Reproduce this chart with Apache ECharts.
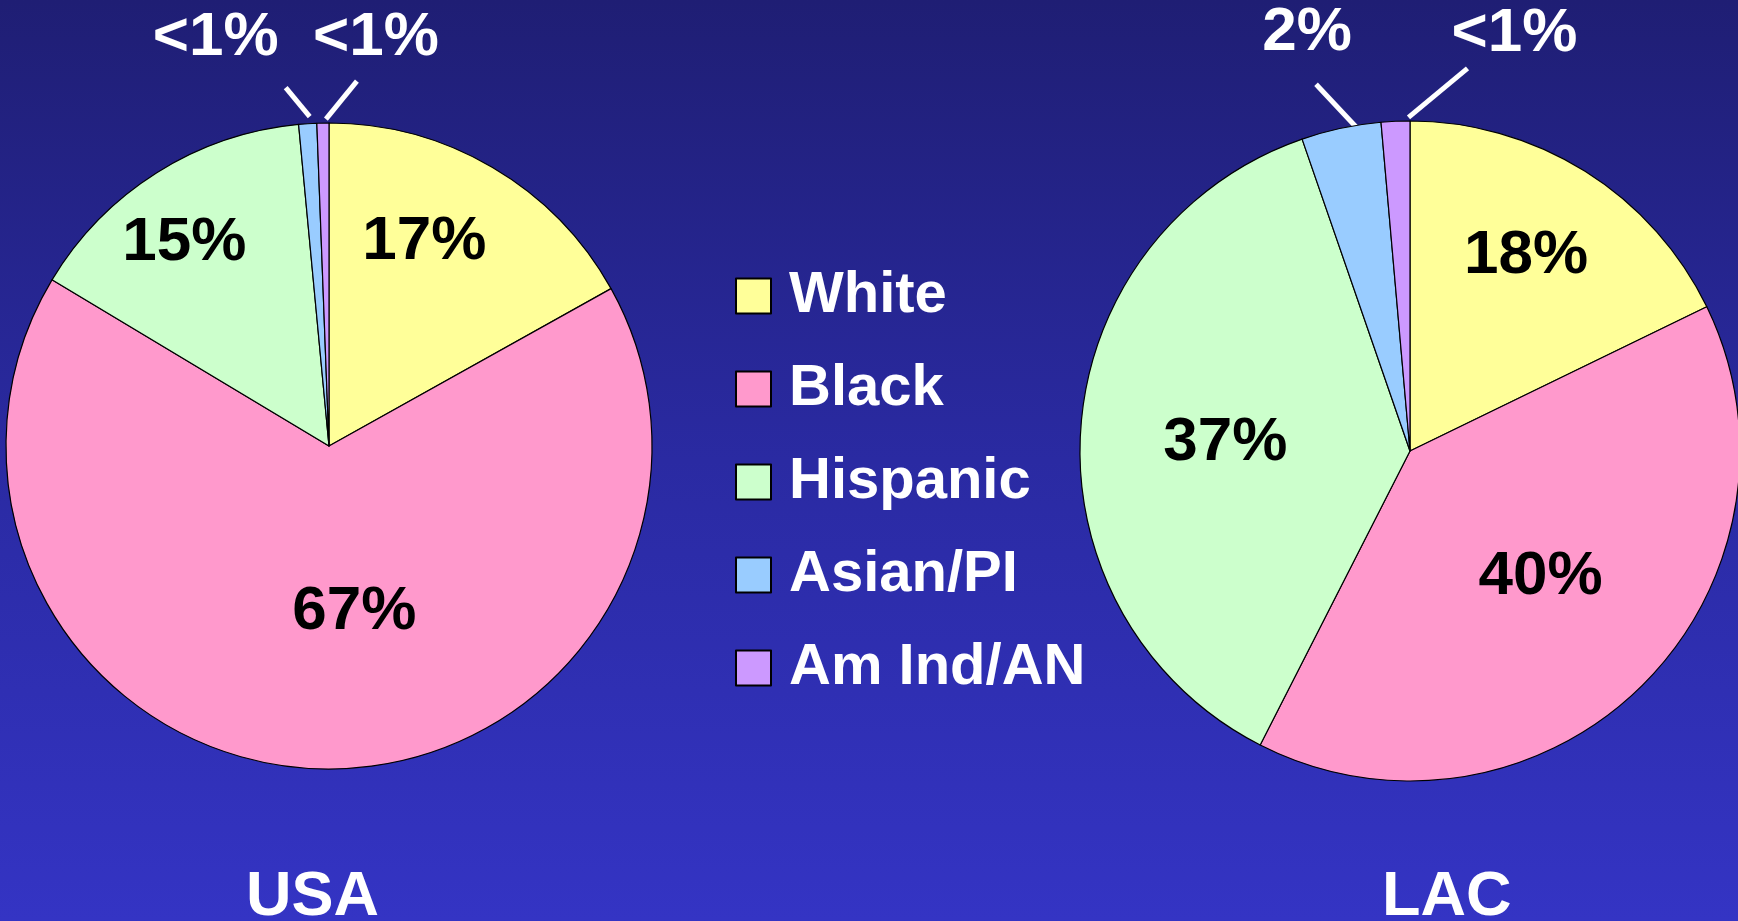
<!DOCTYPE html>
<html>
<head>
<meta charset="utf-8">
<title>USA / LAC</title>
<script src="https://cdn.jsdelivr.net/npm/echarts@6/dist/echarts.min.js"></script>
<style>
html, body { margin: 0; padding: 0; }
#main { width: 1738px; height: 921px; }
</style>
</head>
<body>
<div id="main"></div>
<script>
// data
var categories = ['White', 'Black', 'Hispanic', 'Asian/PI', 'Am Ind/AN'];
var usaValues = [16.9, 66.7, 14.9, 0.9, 0.6];
var lacValues = [17.8, 39.7, 37.2, 3.9, 1.4];
var usaLabels = ['17%', '67%', '15%', '<1%', '<1%'];
var lacLabels = ['18%', '40%', '37%', '2%', '<1%'];

var sliceColors = ['#FFFF99', '#FF99CC', '#CCFFCC', '#99CCFF', '#CC99FF'];
var fontFamily = '"Liberation Sans", Arial, Helvetica, sans-serif';

// label nudges: big slices shift from their default spot,
// small slices get a straight white leader line
var labelAdjust = {
    USA: [
        {dx: 12, dy: -62},
        {dx: 28, dy: 1},
        {dx: -57, dy: -64},
        {line: [[2, -7], [-22, -36]], text: [-92, -86]},
        {line: [[3, -4], [34, -42]], text: [53, -85]}
    ],
    LAC: [
        {dx: 27, dy: -53},
        {dx: 13, dy: 6},
        {dx: -17, dy: 4},
        {line: [[19, 3], [-25, -44]], text: [-34, -95]},
        {line: [[13, -4], [72, -53]], text: [119, -87]}
    ]
};

function makeLayout(name) {
    return function (params) {
        var adj = labelAdjust[name][params.dataIndex];
        if (adj.line) {
            var p = params.labelLinePoints[0];
            var a = [p[0] + adj.line[0][0], p[1] + adj.line[0][1]];
            var b = [p[0] + adj.line[1][0], p[1] + adj.line[1][1]];
            return {
                x: p[0] + adj.text[0],
                y: p[1] + adj.text[1],
                align: 'center',
                verticalAlign: 'middle',
                labelLinePoints: [a, b, b]
            };
        }
        var r = params.labelRect;
        return {
            x: r.x + r.width / 2 + adj.dx,
            y: r.y + r.height / 2 + adj.dy,
            align: 'center',
            verticalAlign: 'middle'
        };
    };
}

function buildData(values) {
    return categories.map(function (name, i) {
        var item = {name: name, value: values[i], itemStyle: {color: sliceColors[i]}};
        if (i >= 3) {
            item.label = {position: 'outside', color: '#fff'};
            item.labelLine = {show: true};
        }
        return item;
    });
}

function pieSeries(name, values, labels, center, radius) {
    return {
        name: name,
        type: 'pie',
        center: center,
        radius: radius,
        startAngle: 90,
        clockwise: true,
        avoidLabelOverlap: false,
        itemStyle: {borderColor: '#000', borderWidth: 1.2},
        label: {
            show: true,
            position: 'inside',
            color: '#000',
            fontSize: 62,
            fontWeight: 'bold',
            fontFamily: fontFamily,
            formatter: function (p) { return labels[p.dataIndex]; }
        },
        labelLine: {
            show: false,
            length: 20,
            length2: 0,
            smooth: false,
            lineStyle: {color: '#fff', width: 5}
        },
        labelLayout: makeLayout(name),
        emphasis: {disabled: true},
        data: buildData(values)
    };
}

var myChart = echarts.init(document.getElementById('main'));

var option = {
    animation: false,
    backgroundColor: {
        type: 'linear', x: 0, y: 0, x2: 0, y2: 1,
        colorStops: [
            {offset: 0, color: '#1F1E74'},
            {offset: 0.5, color: '#2A2AA2'},
            {offset: 1, color: '#3434C4'}
        ]
    },
    title: [
        {
            text: 'USA', left: 246, top: 866, padding: 0,
            textStyle: {color: '#fff', fontSize: 63, fontWeight: 'bold', fontFamily: fontFamily}
        },
        {
            text: 'LAC', left: 1382, top: 866, padding: 0,
            textStyle: {color: '#fff', fontSize: 63, fontWeight: 'bold', fontFamily: fontFamily}
        }
    ],
    legend: {
        orient: 'vertical',
        left: 735,
        top: 267,
        padding: 0,
        itemWidth: 35,
        itemHeight: 35,
        itemGap: 35,
        icon: 'rect',
        selectedMode: false,
        itemStyle: {borderColor: '#000', borderWidth: 2},
        textStyle: {
            color: '#fff',
            fontSize: 58,
            fontWeight: 'bold',
            fontFamily: fontFamily,
            lineHeight: 46,
            padding: [0, 0, 0, 13]
        },
        data: categories
    },
    series: [
        pieSeries('USA', usaValues, usaLabels, [329, 446], 323),
        pieSeries('LAC', lacValues, lacLabels, [1410, 451], 330)
    ]
};

myChart.setOption(option);
</script>
</body>
</html>
